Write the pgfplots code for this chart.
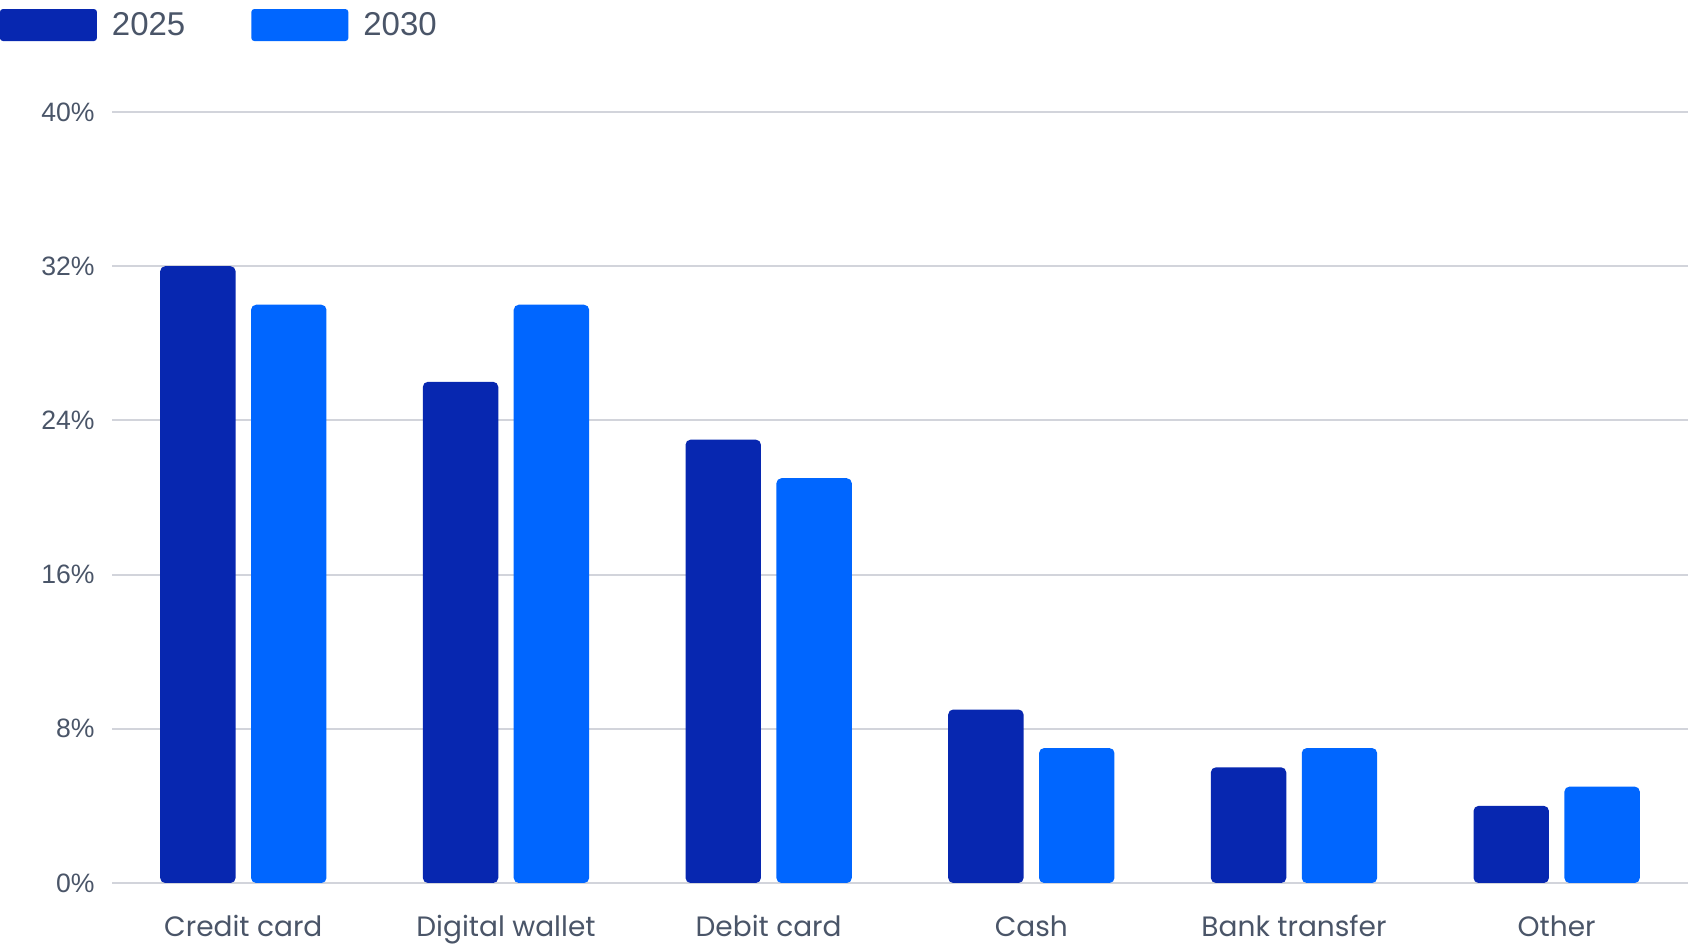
\documentclass[border=0pt]{standalone}
\usepackage{pgfplots}
\pgfplotsset{compat=1.18}
\usepackage{fontspec}
\setmainfont{Liberation Sans}
\newfontfamily\pop{Poppins}
\definecolor{darkb}{HTML}{0727B0}
\definecolor{lightb}{HTML}{0066FF}
\definecolor{txt}{HTML}{4A5568}
\definecolor{gridc}{HTML}{D2D4DB}
\begin{document}
\begin{tikzpicture}[x=1pt,y=1pt]
\begin{axis}[
  at={(0,0)}, anchor=south west,
  scale only axis, width=788pt, height=385.5pt,
  xmin=-0.5, xmax=5.5, ymin=0, ymax=40,
  ytick={0,8,...,40},
  xtick={0,...,5},
  xticklabels={Credit card, Digital wallet, Debit card, Cash, Bank transfer, Other},
  axis line style={draw=none},
  tick style={draw=none},
  major tick length=0pt,
  ymajorgrids, grid style={color=gridc, line width=1pt},
  yticklabel={\pgfmathprintnumber{\tick}\%},
  /pgf/number format/assume math mode=true,
  yticklabel style={font=\fontsize{13.3pt}{15pt}\selectfont, color=txt, anchor=east, inner sep=0pt, xshift=-8.5pt},
  xticklabel style={font=\pop\fontsize{14pt}{16pt}\selectfont, color=txt, anchor=base, inner sep=0pt, yshift=-27pt},
  ybar, bar width=0.287,
  legend columns=2,
  legend image code/.code={\fill[#1, rounded corners=1.5pt] (0pt,-8pt) rectangle (48.5pt,8pt);},
  legend style={at={(-0.0711,1.1128)}, anchor=west, draw=none, fill=none, inner sep=0pt, outer sep=0pt,
    font=\fontsize{16.5pt}{18pt}\selectfont, text=txt,
    /tikz/every odd column/.style={column sep=7.5pt},
    /tikz/every even column/.style={column sep=33pt},
    nodes={inner sep=0pt}},
]
\addplot[fill=darkb, draw=none, bar shift=-0.173, rounded corners=2.5pt] coordinates {(0,32) (1,26) (2,23) (3,9) (4,6) (5,4)};
\addlegendentry{2025}
\addplot[fill=lightb, draw=none, bar shift=0.173, rounded corners=2.5pt] coordinates {(0,30) (1,30) (2,21) (3,7) (4,7) (5,5)};
\addlegendentry{2030}
\end{axis}
\pgfresetboundingbox
\path[use as bounding box] (-56pt,-32.5pt) rectangle (788pt,441.5pt);
\end{tikzpicture}
\end{document}
